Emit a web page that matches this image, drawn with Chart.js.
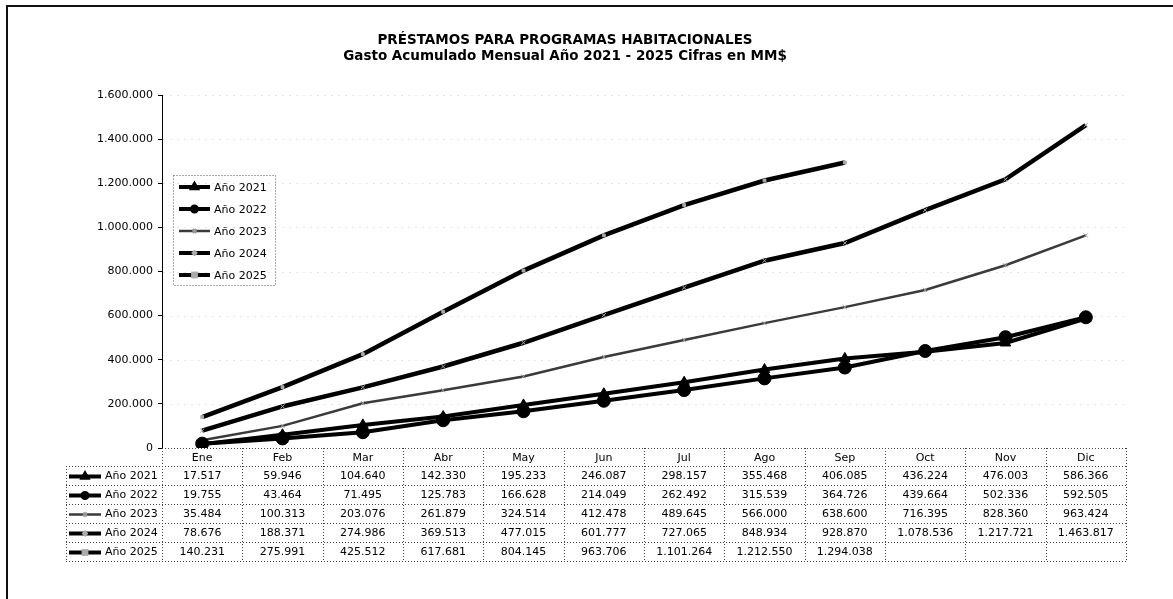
<!DOCTYPE html>
<html lang="es">
<head>
<meta charset="utf-8">
<title>Préstamos para programas habitacionales</title>
<script src="https://cdn.jsdelivr.net/npm/chart.js@4.4.1/dist/chart.umd.min.js"></script>
<style>
    html, body { margin: 0; padding: 0; background: #fff; }
    #grafico { display: block; }
</style>
</head>
<body>
<canvas id="grafico" width="1173" height="599"></canvas>
<script>
const meses = ['Ene', 'Feb', 'Mar', 'Abr', 'May', 'Jun', 'Jul', 'Ago', 'Sep', 'Oct', 'Nov', 'Dic'];
const anio2021 = [17517, 59946, 104640, 142330, 195233, 246087, 298157, 355468, 406085, 436224, 476003, 586366];
const anio2022 = [19755, 43464, 71495, 125783, 166628, 214049, 262492, 315539, 364726, 439664, 502336, 592505];
const anio2023 = [35484, 100313, 203076, 261879, 324514, 412478, 489645, 566000, 638600, 716395, 828360, 963424];
const anio2024 = [78676, 188371, 274986, 369513, 477015, 601777, 727065, 848934, 928870, 1078536, 1217721, 1463817];
const anio2025 = [140231, 275991, 425512, 617681, 804145, 963706, 1101264, 1212550, 1294038, null, null, null];
const ejeY = [0, 200000, 400000, 600000, 800000, 1000000, 1200000, 1400000, 1600000];
const titulo = 'PRÉSTAMOS PARA PROGRAMAS HABITACIONALES';
const subtitulo = 'Gasto Acumulado Mensual Año 2021 - 2025 Cifras en MM$';

const fuente = '"DejaVu Sans", Verdana, sans-serif';

function miles(v) {
    return String(v).replace(/\B(?=(\d{3})+(?!\d))/g, '.');
}

function serie(nombre, datos, grosor, color, estilo, radio, colorPunto) {
    return {
        label: nombre,
        data: datos,
        borderColor: color,
        backgroundColor: colorPunto,
        borderWidth: grosor,
        pointStyle: estilo,
        pointRadius: radio,
        pointHoverRadius: radio,
        pointBackgroundColor: colorPunto,
        pointBorderColor: colorPunto,
        pointBorderWidth: 1,
        tension: 0,
        spanGaps: false
    };
}

// muestra de linea + marcador pequeño (leyenda y tabla)
function dibujarClave(ctx, ds, x1, x2, y) {
    ctx.save();
    ctx.setLineDash([]);
    ctx.strokeStyle = ds.borderColor;
    ctx.lineWidth = Math.min(ds.borderWidth, 4);
    ctx.beginPath();
    ctx.moveTo(x1, y);
    ctx.lineTo(x2, y);
    ctx.stroke();
    ctx.fillStyle = ds.pointBackgroundColor;
    ctx.strokeStyle = ds.pointBorderColor;
    Chart.helpers.drawPoint(ctx, {
        pointStyle: ds.pointStyle,
        radius: Math.min(ds.pointRadius, 2.5),
        rotation: 0,
        borderWidth: 1
    }, (x1 + x2) / 2, y);
    ctx.restore();
}

const fondo = {
    id: 'fondo',
    beforeDraw(chart) {
        const ctx = chart.ctx;
        ctx.save();
        ctx.fillStyle = '#fff';
        ctx.fillRect(0, 0, chart.width, chart.height);
        ctx.strokeStyle = '#111';
        ctx.lineWidth = 2;
        ctx.beginPath();
        ctx.moveTo(7, chart.height);
        ctx.lineTo(7, 6);
        ctx.lineTo(chart.width, 6);
        ctx.stroke();
        ctx.restore();
    },
    beforeDatasetsDraw(chart) {
        const {ctx, chartArea, scales: {y}} = chart;
        ctx.save();
        ctx.strokeStyle = '#e6e6e6';
        ctx.lineWidth = 1;
        ctx.setLineDash([2, 5]);
        ejeY.slice(1).forEach(v => {
            const py = Math.round(y.getPixelForValue(v)) + 0.5;
            ctx.beginPath();
            ctx.moveTo(chartArea.left + 1, py);
            ctx.lineTo(chartArea.right, py);
            ctx.stroke();
        });
        ctx.restore();
    }
};

const tabla = {
    id: 'tabla',
    afterDraw(chart) {
        const {ctx, chartArea, scales: {x}} = chart;
        const series = chart.data.datasets;
        const ancho = x.width / meses.length;
        const izq = chartArea.left;
        const der = chartArea.right;
        const arriba = chartArea.bottom;
        const altoCab = 18;
        const altoFila = 19;
        const inicioFilas = arriba + altoCab;
        const abajo = inicioFilas + altoFila * series.length;
        const colEtiqueta = 66;

        ctx.save();
        // titulos
        ctx.fillStyle = '#000';
        ctx.textAlign = 'center';
        ctx.textBaseline = 'middle';
        ctx.font = 'bold 13.5px ' + fuente;
        ctx.fillText(titulo, 565, 40);
        ctx.fillText(subtitulo, 565, 56);

        // bordes punteados de la tabla
        ctx.strokeStyle = '#444';
        ctx.lineWidth = 1;
        ctx.setLineDash([1, 2]);
        const linea = (a, b, c, d) => {
            ctx.beginPath();
            ctx.moveTo(a, b);
            ctx.lineTo(c, d);
            ctx.stroke();
        };
        linea(izq, Math.round(arriba) + 0.5, der, Math.round(arriba) + 0.5);
        for (let f = 0; f <= series.length; f++) {
            const py = Math.round(inicioFilas + f * altoFila) + 0.5;
            linea(colEtiqueta, py, der, py);
        }
        linea(colEtiqueta + 0.5, inicioFilas, colEtiqueta + 0.5, abajo);
        for (let c = 0; c <= meses.length; c++) {
            const px = Math.round(izq + c * ancho) + 0.5;
            linea(px, arriba, px, abajo);
        }

        // textos
        ctx.setLineDash([]);
        ctx.font = '11px ' + fuente;
        ctx.textAlign = 'center';
        meses.forEach((m, i) => {
            ctx.fillText(m, x.getPixelForValue(i), arriba + altoCab / 2 + 1);
        });
        series.forEach((ds, f) => {
            const cy = inicioFilas + f * altoFila + altoFila / 2 + 1;
            dibujarClave(ctx, ds, 69, 101, cy);
            ctx.textAlign = 'left';
            ctx.fillStyle = '#000';
            ctx.fillText(ds.label, 105, cy);
            ctx.textAlign = 'center';
            ds.data.forEach((v, i) => {
                if (v !== null) ctx.fillText(miles(v), x.getPixelForValue(i), cy);
            });
        });

        // leyenda dentro del grafico
        ctx.strokeStyle = '#555';
        ctx.setLineDash([1, 2]);
        ctx.strokeRect(173.5, 175.5, 102, 110);
        ctx.setLineDash([]);
        series.forEach((ds, f) => {
            const cy = 187 + f * 22;
            dibujarClave(ctx, ds, 179, 210, cy);
            ctx.fillStyle = '#000';
            ctx.textAlign = 'left';
            ctx.fillText(ds.label, 214, cy + 1);
        });
        ctx.restore();
    }
};

new Chart(document.getElementById('grafico'), {
    type: 'line',
    data: {
        labels: meses,
        datasets: [
            serie('Año 2021', anio2021, 4, '#000', 'triangle', 6, '#000'),
            serie('Año 2022', anio2022, 4, '#000', 'circle', 6.5, '#000'),
            serie('Año 2023', anio2023, 2.5, '#3a3a3a', 'crossRot', 3, '#999'),
            serie('Año 2024', anio2024, 4.5, '#000', 'crossRot', 3, '#aaa'),
            serie('Año 2025', anio2025, 4.5, '#000', 'rect', 2, '#aaa')
        ]
    },
    options: {
        responsive: false,
        animation: false,
        layout: { padding: { top: 95, right: 47, bottom: 151, left: 0 } },
        plugins: {
            legend: { display: false },
            title: { display: false },
            tooltip: { enabled: false }
        },
        scales: {
            x: {
                offset: true,
                grid: { display: false, drawTicks: false },
                border: { display: false },
                ticks: { display: false },
                afterFit(s) { s.height = 0; }
            },
            y: {
                min: 0,
                max: 1600000,
                afterBuildTicks(s) { s.ticks = ejeY.map(v => ({ value: v })); },
                afterFit(s) { s.width = 162; },
                ticks: {
                    color: '#000',
                    padding: 5,
                    font: { family: fuente, size: 11 },
                    callback: v => miles(v)
                },
                grid: { drawOnChartArea: false, color: '#000', tickLength: 4 },
                border: { color: '#000', width: 1 }
            }
        }
    },
    plugins: [fondo, tabla]
});
</script>
</body>
</html>
